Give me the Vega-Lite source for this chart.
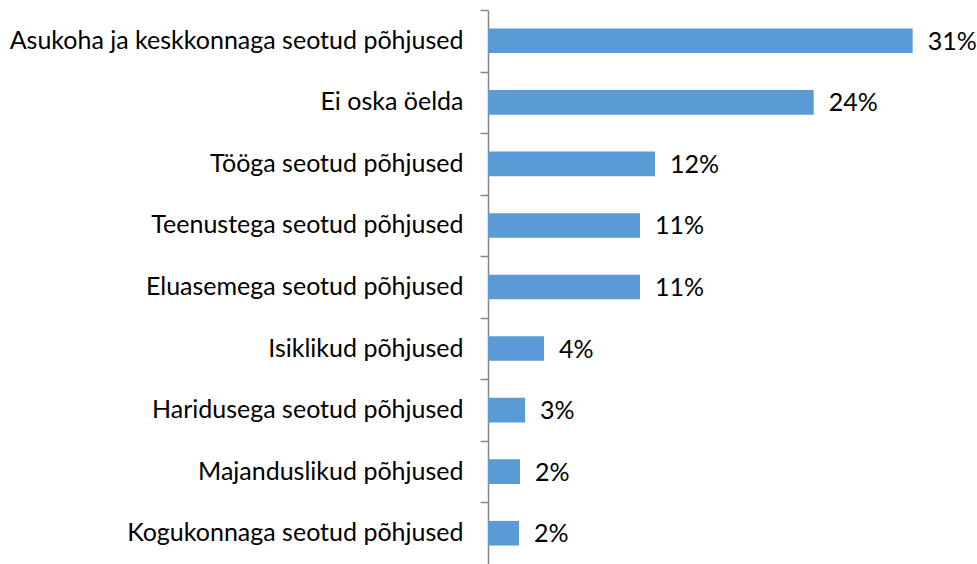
{
  "$schema": "https://vega.github.io/schema/vega-lite/v6.json",
  "width": 481,
  "height": 554,
  "autosize": "none",
  "padding": {"left": 488, "top": 10, "right": 8, "bottom": 0},
  "background": "white",
  "config": {"view": {"stroke": null}, "font": "Lato"},
  "data": {
    "values": [
      {"reason": "Asukoha ja keskkonnaga seotud põhjused", "share": 0.309},
      {"reason": "Ei oska öelda", "share": 0.237},
      {"reason": "Tööga seotud põhjused", "share": 0.1215},
      {"reason": "Teenustega seotud põhjused", "share": 0.1106},
      {"reason": "Eluasemega seotud põhjused", "share": 0.1106},
      {"reason": "Isiklikud põhjused", "share": 0.0408},
      {"reason": "Haridusega seotud põhjused", "share": 0.027},
      {"reason": "Majanduslikud põhjused", "share": 0.0233},
      {"reason": "Kogukonnaga seotud põhjused", "share": 0.0226}
    ]
  },
  "resolve": {"axis": {"y": "independent"}},
  "layer": [
    {
      "mark": {"type": "bar", "color": "#5B9BD5"},
      "encoding": {
        "y": {
          "field": "reason",
          "type": "nominal",
          "sort": null,
          "scale": {"paddingInner": 0.6, "paddingOuter": 0.3},
          "axis": {
            "orient": "left",
            "title": null,
            "domainColor": "#868686",
            "domainWidth": 1.5,
            "ticks": false,
            "labelPadding": 25,
            "labelLimit": 600,
            "labelFontSize": 25,
            "labelColor": "#000000",
            "labelFont": "Lato"
          }
        },
        "x": {
          "field": "share",
          "type": "quantitative",
          "scale": {"domain": [0, 0.35]},
          "axis": null
        }
      }
    },
    {
      "mark": {"type": "text", "align": "left", "dx": 15, "dy": 1, "fontSize": 25, "color": "#000000", "font": "Lato"},
      "encoding": {
        "y": {
          "field": "reason",
          "type": "nominal",
          "sort": null,
          "axis": {
            "orient": "left",
            "title": null,
            "domain": false,
            "labels": false,
            "tickColor": "#868686",
            "tickWidth": 1.5,
            "tickSize": 8,
            "tickOffset": -30.8
          }
        },
        "x": {"field": "share", "type": "quantitative"},
        "text": {"field": "share", "type": "quantitative", "format": ".0%"}
      }
    }
  ]
}
